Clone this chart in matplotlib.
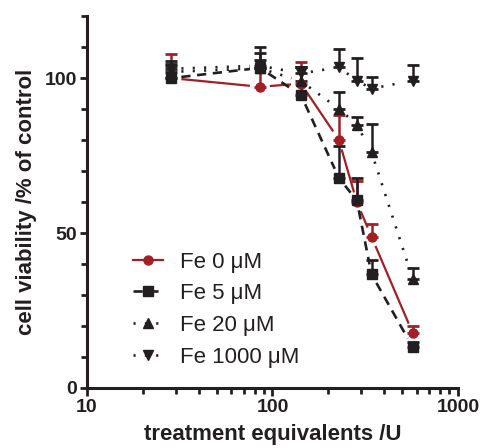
import matplotlib
matplotlib.use("Agg")
import matplotlib.pyplot as plt
import numpy as np

# ---- data ----
x = [28.5, 85.5, 142.5, 228, 285, 342, 570]
fe0 = [100, 97.2, 98.2, 80.1, 60.0, 48.8, 17.8]
fe0_err = [7.8, 6.0, 7.0, 8.1, 6.8, 4.2, 2.1]
fe5 = [100, 103.3, 94.5, 67.8, 60.5, 36.7, 13.2]
fe5_err = [5.6, 6.8, 9.2, 10.2, 7.2, 4.5, 1.6]
fe20 = [102, 103.2, 99.0, 90.1, 85.0, 76.1, 35.3]
fe20_err = [1.9, 4.8, 4.5, 5.4, 2.4, 9.2, 3.4]
fe1000 = [103, 104, 101.5, 103.5, 99.2, 96.6, 99.2]
fe1000_err = [1.5, 1.8, 2.0, 6.0, 7.4, 3.7, 4.9]
labels = ["Fe 0 μM", "Fe 5 μM", "Fe 20 μM", "Fe 1000 μM"]

RED = "#a31f26"
BLK = "#231f20"

plt.rcParams['font.family'] = ['Liberation Sans', 'DejaVu Sans']

fig = plt.figure(figsize=(4.81, 4.48), dpi=100)
ax = fig.add_axes([0.181, 0.134, 0.771, 0.830])
ax.set_xscale('log')
ax.set_xlim(10, 1000)
ax.set_ylim(0, 120)

series = [
    (fe0, fe0_err, RED, '-', 'o', 1.6),
    (fe5, fe5_err, BLK, (0, (3.5, 2.5)), 's', 1.9),
    (fe20, fe20_err, BLK, (0, (0.8, 3.5)), '^', 1.9),
    (fe1000, fe1000_err, BLK, (0, (0.8, 3.5)), 'v', 1.9),
]

fig.canvas.draw()
gap = 10.0  # pixels
handles = []
for k, (y, e, c, ls, m, lw) in enumerate(series):
    ax.errorbar(x, y, yerr=[np.zeros(len(e)), e], fmt='none', ecolor=c,
                elinewidth=1.8, capsize=4, capthick=2.0, zorder=3 + k * 0.1)
for k, (y, e, c, ls, m, lw) in enumerate(series):
    pts = ax.transData.transform(np.column_stack([x, y]))
    inv = ax.transData.inverted()
    for i in range(len(pts) - 1):
        p0, p1 = pts[i], pts[i + 1]
        d = p1 - p0
        L = np.hypot(*d)
        u = d / L
        q0 = inv.transform(p0 + u * gap)
        q1 = inv.transform(p1 - u * gap)
        ax.plot([q0[0], q1[0]], [q0[1], q1[1]], color=c, ls=ls, lw=lw,
                solid_capstyle='butt', dash_capstyle='butt', zorder=2)
    ax.plot(x, y, ls='none', marker=m, color=c, ms=6.5, zorder=4 + k * 0.1)

for (y, e, c, ls, m, lw), lab in zip(series, labels):
    h, = ax.plot([], [], color=c, ls=ls, lw=lw, marker=m, ms=6.5)
    handles.append(h)

leg = ax.legend(handles, labels, loc='upper left', bbox_to_anchor=(0.125, 0.367),
                frameon=False, fontsize=16, handlelength=1.35, handletextpad=0.75,
                labelspacing=0.48, borderaxespad=0, borderpad=0)
for t in leg.get_texts():
    t.set_color(BLK)

for s in ['top', 'right']:
    ax.spines[s].set_visible(False)
for s in ['left', 'bottom']:
    ax.spines[s].set_linewidth(2.2)
    ax.spines[s].set_color(BLK)

ax.set_yticks([0, 50, 100])
ax.set_yticks(np.arange(0, 121, 10), minor=True)
ax.tick_params(axis='both', which='major', direction='out', length=5, width=2.0,
               labelsize=14, colors=BLK, pad=2)
ax.tick_params(axis='both', which='minor', direction='out', length=4, width=2.0, colors=BLK)
ax.tick_params(axis='x', which='major', length=6)
ax.set_xticks([10, 100, 1000])
ax.set_xticklabels(['10', '100', '1000'])
for t in ax.get_xticklabels() + ax.get_yticklabels():
    t.set_fontweight('bold')

ax.set_xlabel('treatment equivalents /U', fontsize=16, fontweight='bold', color=BLK, labelpad=6)
ax.set_ylabel('cell viability /% of control', fontsize=16, fontweight='bold', color=BLK, labelpad=6)

fig.savefig('out.png', dpi=100)
